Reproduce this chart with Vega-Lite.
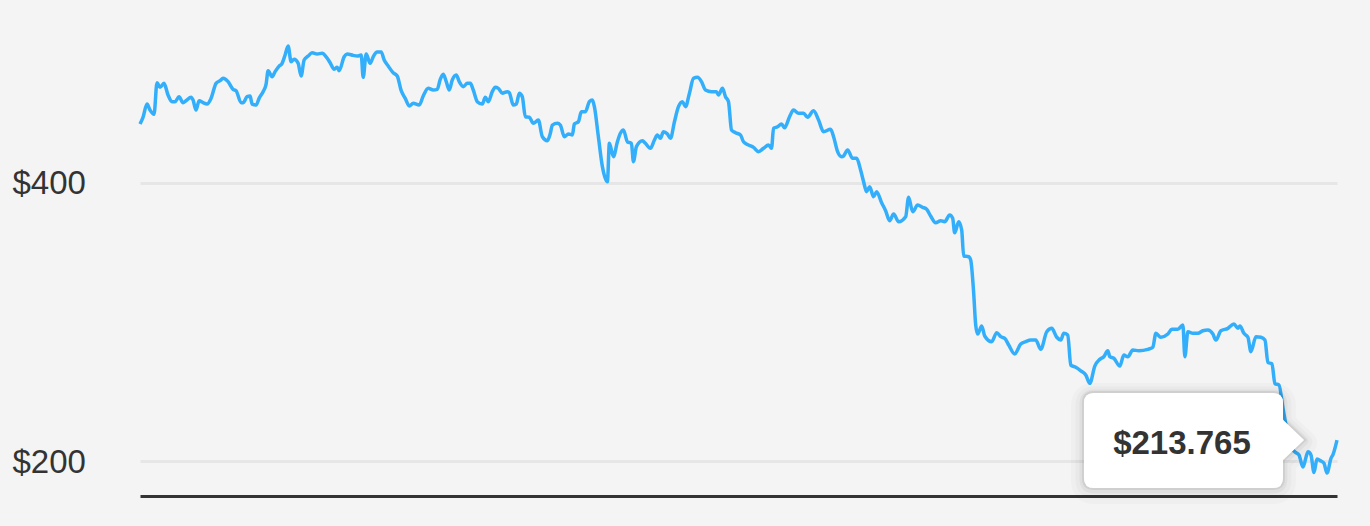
{
  "$schema": "https://vega.github.io/schema/vega-lite/v6.json",
  "width": 1197,
  "height": 480,
  "autosize": {"type": "none"},
  "padding": {"left": 140, "top": 16, "right": 33, "bottom": 30},
  "background": "#f4f4f4",
  "config": {"view": {"stroke": null}, "font": "Liberation Sans"},
  "datasets": {
    "prices": [
      {"t":0,"p":442.4},{"t":3,"p":447.2},{"t":7,"p":456.7},{"t":10,"p":452.4},{"t":14,"p":449.3},{"t":17,"p":472.1},{"t":20,"p":468.7},{"t":24,"p":471.6},{"t":28,"p":463.2},{"t":32,"p":458.4},{"t":35,"p":458.4},{"t":39,"p":462.0},{"t":43,"p":457.7},{"t":46,"p":459.1},{"t":51,"p":461.6},{"t":53,"p":459.6},{"t":56,"p":452.4},{"t":59,"p":459.1},{"t":63,"p":457.7},{"t":67,"p":456.7},{"t":71,"p":460.8},{"t":76,"p":471.6},{"t":80,"p":473.5},{"t":83,"p":475.2},{"t":88,"p":472.8},{"t":93,"p":467.3},{"t":96,"p":466.3},{"t":101,"p":457.7},{"t":103,"p":457.7},{"t":107,"p":462.0},{"t":110,"p":462.5},{"t":112,"p":456.7},{"t":116,"p":456.0},{"t":119,"p":460.8},{"t":123,"p":465.6},{"t":126,"p":471.1},{"t":128,"p":480.7},{"t":132,"p":476.4},{"t":135,"p":480.0},{"t":139,"p":484.0},{"t":142,"p":486.0},{"t":145,"p":492.0},{"t":148,"p":498.4},{"t":151,"p":487.1},{"t":154,"p":488.9},{"t":158,"p":486.0},{"t":161,"p":476.9},{"t":164,"p":488.4},{"t":168,"p":491.2},{"t":172,"p":493.6},{"t":177,"p":492.7},{"t":182,"p":493.2},{"t":186,"p":490.7},{"t":190,"p":486.4},{"t":194,"p":481.7},{"t":197,"p":483.1},{"t":199,"p":480.7},
      {"t":204,"p":490.7},{"t":207,"p":492.7},{"t":213,"p":491.7},{"t":217,"p":491.2},{"t":221,"p":492.0},{"t":223,"p":475.9},{"t":226,"p":492.7},{"t":230,"p":486.0},{"t":233,"p":490.7},{"t":237,"p":494.1},{"t":241,"p":494.1},{"t":244,"p":488.4},{"t":248,"p":484.0},{"t":253,"p":479.2},{"t":257,"p":476.9},{"t":261,"p":466.3},{"t":265,"p":460.8},{"t":269,"p":455.3},{"t":273,"p":457.2},{"t":279,"p":456.0},{"t":283,"p":462.5},{"t":288,"p":468.0},{"t":293,"p":466.8},{"t":297,"p":467.3},{"t":300,"p":474.5},{"t":303,"p":478.1},{"t":306,"p":472.8},{"t":309,"p":466.8},{"t":312,"p":474.0},{"t":316,"p":477.6},{"t":319,"p":472.8},{"t":323,"p":469.2},{"t":327,"p":471.6},{"t":330,"p":471.6},{"t":333,"p":466.8},{"t":337,"p":458.4},{"t":342,"p":456.7},{"t":345,"p":461.6},{"t":348,"p":458.4},{"t":352,"p":465.6},{"t":355,"p":468.7},{"t":358,"p":468.0},{"t":362,"p":464.5},{"t":367,"p":465.6},{"t":369,"p":464.9},{"t":373,"p":456.0},{"t":376,"p":456.7},{"t":379,"p":464.5},{"t":382,"p":462.0},{"t":385,"p":447.6},{"t":389,"p":447.2},{"t":393,"p":442.9},{"t":398,"p":445.2},{"t":402,"p":433.2},{"t":407,"p":430.4},{"t":410,"p":435.7},
      {"t":412,"p":441.6},{"t":417,"p":442.9},{"t":420,"p":441.6},{"t":424,"p":433.2},{"t":428,"p":435.2},{"t":432,"p":434.5},{"t":434,"p":442.4},{"t":438,"p":444.0},{"t":441,"p":451.2},{"t":445,"p":451.2},{"t":449,"p":458.4},{"t":452,"p":459.6},{"t":454,"p":454.8},{"t":458,"p":433.2},{"t":462,"p":411.7},{"t":467,"p":400.9},{"t":469,"p":428.5},{"t":473,"p":418.9},{"t":477,"p":429.6},{"t":480,"p":435.7},{"t":483,"p":438.1},{"t":487,"p":429.6},{"t":491,"p":428.5},{"t":493,"p":415.3},{"t":496,"p":426.1},{"t":502,"p":430.4},{"t":505,"p":428.5},{"t":510,"p":424.9},{"t":514,"p":430.9},{"t":517,"p":434.5},{"t":520,"p":432.1},{"t":523,"p":436.8},{"t":527,"p":435.2},{"t":530,"p":432.1},{"t":534,"p":444.0},{"t":538,"p":454.8},{"t":542,"p":458.4},{"t":545,"p":454.8},{"t":549,"p":464.5},{"t":553,"p":475.2},{"t":557,"p":475.9},{"t":561,"p":472.8},{"t":565,"p":466.8},{"t":571,"p":465.6},{"t":576,"p":465.6},{"t":578,"p":463.2},{"t":582,"p":468.0},{"t":585,"p":462.0},{"t":588,"p":458.4},{"t":591,"p":438.1},{"t":595,"p":436.1},{"t":600,"p":434.5},{"t":603,"p":429.6},{"t":608,"p":427.3},{"t":613,"p":425.6},
      {"t":618,"p":422.5},{"t":623,"p":424.9},{"t":628,"p":427.3},{"t":631,"p":424.9},{"t":633,"p":439.3},{"t":637,"p":440.4},{"t":641,"p":442.4},{"t":644,"p":439.7},{"t":649,"p":447.6},{"t":653,"p":452.4},{"t":658,"p":450.1},{"t":663,"p":450.1},{"t":667,"p":447.2},{"t":673,"p":451.9},{"t":678,"p":445.2},{"t":683,"p":436.8},{"t":690,"p":438.6},{"t":693,"p":433.2},{"t":697,"p":422.5},{"t":701,"p":418.9},{"t":703,"p":419.4},{"t":707,"p":423.7},{"t":712,"p":417.7},{"t":716,"p":417.7},{"t":720,"p":409.3},{"t":723,"p":400.9},{"t":726,"p":393.7},{"t":729,"p":397.3},{"t":733,"p":390.1},{"t":736,"p":393.7},{"t":741,"p":385.8},{"t":745,"p":380.0},{"t":749,"p":372.9},{"t":753,"p":377.7},{"t":758,"p":372.1},{"t":765,"p":375.7},{"t":768,"p":389.7},{"t":772,"p":379.3},{"t":777,"p":384.1},{"t":782,"p":382.5},{"t":786,"p":381.1},{"t":790,"p":376.2},{"t":795,"p":371.4},{"t":800,"p":372.9},{"t":804,"p":372.1},{"t":809,"p":377.0},{"t":812,"p":374.6},{"t":814,"p":364.2},{"t":818,"p":372.1},{"t":821,"p":366.2},{"t":823,"p":347.5},{"t":828,"p":347.0},
      {"t":830,"p":344.6},{"t":833,"p":320.7},{"t":835,"p":297.9},{"t":837,"p":291.4},{"t":841,"p":297.2},{"t":844,"p":290.0},{"t":851,"p":285.9},{"t":856,"p":292.4},{"t":860,"p":289.5},{"t":864,"p":288.3},{"t":868,"p":283.5},{"t":874,"p":277.1},{"t":880,"p":284.2},{"t":885,"p":285.9},{"t":890,"p":287.1},{"t":895,"p":287.1},{"t":900,"p":280.4},{"t":906,"p":293.1},{"t":911,"p":295.5},{"t":916,"p":289.1},{"t":920,"p":287.1},{"t":923,"p":291.9},{"t":927,"p":290.7},{"t":930,"p":269.1},{"t":935,"p":267.5},{"t":940,"p":265.0},{"t":945,"p":262.0},{"t":949,"p":256.0},{"t":954,"p":268.4},{"t":959,"p":273.2},{"t":963,"p":275.1},{"t":967,"p":279.4},{"t":969,"p":275.1},{"t":973,"p":274.0},{"t":979,"p":268.4},{"t":983,"p":276.3},{"t":987,"p":275.1},{"t":992,"p":279.9},{"t":998,"p":279.4},{"t":1007,"p":280.4},{"t":1012,"p":281.9},{"t":1015,"p":291.9},{"t":1020,"p":289.1},{"t":1027,"p":291.4},{"t":1031,"p":294.8},{"t":1037,"p":294.8},{"t":1042,"p":297.9},{"t":1044,"p":275.1},{"t":1047,"p":293.1},{"t":1052,"p":291.9},{"t":1057,"p":291.9},{"t":1062,"p":293.8},{"t":1067,"p":294.3},{"t":1072,"p":291.4},{"t":1075,"p":287.1},{"t":1080,"p":293.8},{"t":1087,"p":295.5},{"t":1093,"p":298.6},{"t":1097,"p":295.5},{"t":1099,"p":297.2},{"t":1103,"p":291.9},{"t":1107,"p":289.1},{"t":1110,"p":278.7},{"t":1115,"p":289.5},{"t":1120,"p":289.1},{"t":1124,"p":287.1},{"t":1127,"p":270.9},{"t":1131,"p":270.1},{"t":1134,"p":255.7},{"t":1138,"p":254.8},{"t":1142,"p":238.2},{"t":1145,"p":226.0},{"t":1149,"p":211.6},{"t":1154,"p":206.6},{"t":1158,"p":204.5},{"t":1162,"p":195.8},{"t":1167,"p":206.8},{"t":1170,"p":204.5},{"t":1173,"p":191.9},{"t":1176,"p":201.6},{"t":1180,"p":200.1},{"t":1183,"p":198.5},{"t":1186,"p":191.5},{"t":1190,"p":202.1},{"t":1192,"p":204.8},{"t":1196,"p":215.2}
    ],
    "callout": [{"t": 1163, "p": 213.765, "label": "$213.765"}]
  },
  "encoding": {
    "x": {"field": "t", "type": "quantitative", "scale": {"domain": [0, 1196], "nice": false, "zero": false},
      "axis": {"title": null, "labels": false, "ticks": false, "grid": false, "domain": true, "domainColor": "#333333", "domainWidth": 3}},
    "y": {"field": "p", "type": "quantitative", "scale": {"domain": [175, 520], "nice": false, "zero": false},
      "axis": {"title": null, "values": [200, 400], "labelExpr": "'$' + datum.value", "labelFontSize": 33, "labelColor": "#333333", "labelAlign": "left", "labelBaseline": "middle", "labelPadding": 128, "labelOffset": 1, "ticks": false, "tickSize": 0, "domain": false, "grid": true, "gridColor": "#e6e6e6", "gridWidth": 3}}
  },
  "layer": [
    {"data": {"name": "prices"}, "mark": {"type": "line", "color": "#33aefa", "strokeWidth": 3.5, "interpolate": "monotone", "strokeJoin": "round"}},
    {"data": {"name": "callout"}, "mark": {"type": "point", "shape": "M-210,-46 L-31,-46 Q-21,-46 -21,-36 L-21,-19 L0,1 L-21,21 L-21,39 Q-21,49 -31,49 L-210,49 Q-220,49 -220,39 L-220,-36 Q-220,-46 -210,-46 Z", "size": 4, "filled": false, "stroke": "#000000", "strokeOpacity": 0.018, "strokeJoin": "round", "strokeWidth": 26, "opacity": 1}},
    {"data": {"name": "callout"}, "mark": {"type": "point", "shape": "M-210,-47 L-31,-47 Q-21,-47 -21,-37 L-21,-20 L0,0 L-21,20 L-21,38 Q-21,48 -31,48 L-210,48 Q-220,48 -220,38 L-220,-37 Q-220,-47 -210,-47 Z", "size": 4, "filled": false, "stroke": "#000000", "strokeOpacity": 0.025, "strokeJoin": "round", "strokeWidth": 17, "opacity": 1}},
    {"data": {"name": "callout"}, "mark": {"type": "point", "shape": "M-210,-48 L-31,-48 Q-21,-48 -21,-38 L-21,-21 L0,-1 L-21,19 L-21,37 Q-21,47 -31,47 L-210,47 Q-220,47 -220,37 L-220,-38 Q-220,-48 -210,-48 Z", "size": 4, "filled": false, "stroke": "#000000", "strokeOpacity": 0.04, "strokeJoin": "round", "strokeWidth": 9, "opacity": 1}},
    {"data": {"name": "callout"}, "mark": {"type": "point", "shape": "M-210,-49 L-31,-49 Q-21,-49 -21,-39 L-21,-22 L0,-2 L-21,18 L-21,36 Q-21,46 -31,46 L-210,46 Q-220,46 -220,36 L-220,-39 Q-220,-49 -210,-49 Z", "size": 4, "filled": true, "fill": "#ffffff", "stroke": "#000000", "strokeOpacity": 0.07, "strokeWidth": 4, "opacity": 1}},
    {"data": {"name": "callout"}, "mark": {"type": "point", "shape": "M-210,-49 L-31,-49 Q-21,-49 -21,-39 L-21,-22 L0,-2 L-21,18 L-21,36 Q-21,46 -31,46 L-210,46 Q-220,46 -220,36 L-220,-39 Q-220,-49 -210,-49 Z", "size": 4, "filled": true, "fill": "#ffffff", "strokeWidth": 0, "opacity": 1}},
    {"data": {"name": "callout"}, "mark": {"type": "text", "font": "Liberation Sans", "fontWeight": "bold", "fontSize": 33, "color": "#333333", "align": "center", "baseline": "middle", "dx": -122, "dy": 2},
      "encoding": {"text": {"field": "label", "type": "nominal"}}}
  ]
}
